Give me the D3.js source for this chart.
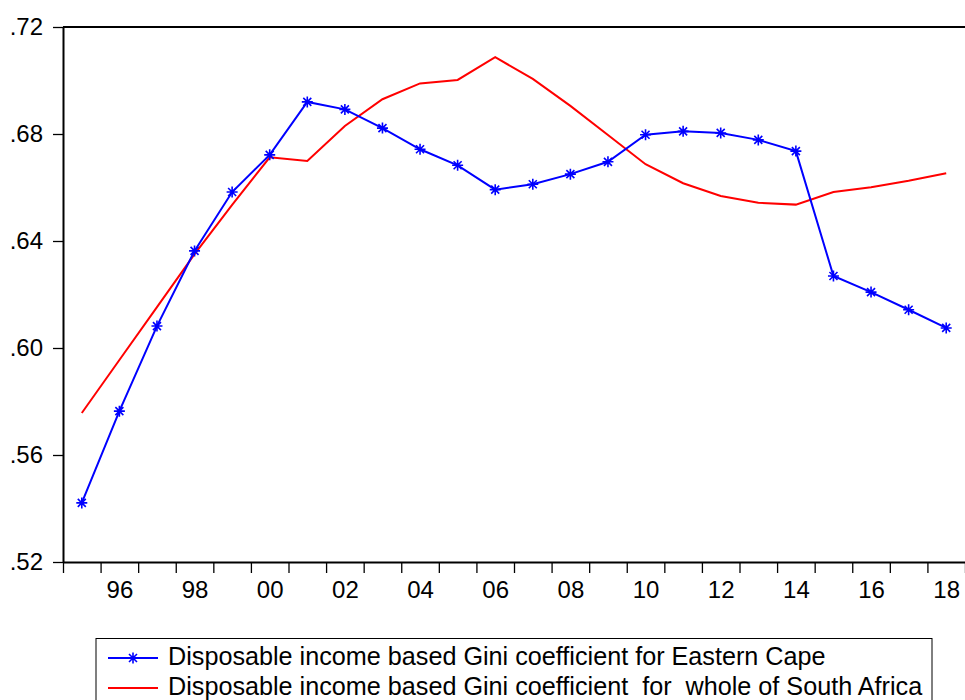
<!DOCTYPE html>
<html><head><meta charset="utf-8">
<script src="https://cdn.jsdelivr.net/npm/d3@7"></script>
<style>
body{margin:0;background:#fff;}
svg{display:block;font-family:"Liberation Sans",Arial,sans-serif;}
</style></head>
<body>
<svg id="chart" width="965" height="700"></svg>
<script>
const years = d3.range(1995, 2019);
const easternCape = [0.5421,0.5764,0.6082,0.6363,0.6583,0.6722,0.6920,0.6892,0.6822,0.6743,0.6683,0.6592,0.6612,0.6650,0.6696,0.6797,0.6810,0.6804,0.6778,0.6736,0.6269,0.6209,0.6143,0.6075];
const southAfrica = [0.5757,0.5955,0.6153,0.6351,0.6535,0.6713,0.6699,0.6830,0.6930,0.6989,0.7002,0.7087,0.7006,0.6905,0.6796,0.6687,0.6616,0.6568,0.6543,0.6536,0.6583,0.6601,0.6625,0.6653];
const yTicks = [0.52,0.56,0.60,0.64,0.68,0.72];
const xLabelYears = d3.range(1996, 2019, 2);
const legendLabels = ["Disposable income based Gini coefficient for Eastern Cape",
                      "Disposable income based Gini coefficient  for  whole of South Africa"];

const svg = d3.select("#chart");
const mLeft = 63, mRight = 965, mTop = 27, mBottom = 562;
const x = d3.scaleLinear().domain([1994.5, 2018.5]).range([mLeft, mRight]);
const y = d3.scaleLinear().domain([0.52, 0.72]).range([mBottom, mTop]);
const FONT = "Liberation Sans, Arial, sans-serif";

// y axis
const yAxis = d3.axisLeft(y).tickValues(yTicks).tickSize(10).tickPadding(10).tickSizeOuter(0)
  .tickFormat(d => d3.format(".2f")(d).replace(/^0/, ""));
const gy = svg.append("g").attr("transform", `translate(${mLeft},0)`).call(yAxis);
gy.select(".domain").attr("stroke", "#000").attr("stroke-width", 2);
gy.selectAll(".tick line").attr("stroke", "#000").attr("stroke-width", 1.3);
gy.selectAll(".tick text").attr("font-size", 24).attr("font-family", FONT).attr("fill", "#000");

// x axis ticks (year boundaries)
const boundaries = d3.range(1994.5, 2018.6, 1);
const xAxis = d3.axisBottom(x).tickValues(boundaries).tickSize(11).tickSizeOuter(0).tickFormat("");
const gx = svg.append("g").attr("transform", `translate(0,${mBottom})`).call(xAxis);
gx.select(".domain").attr("stroke", "#000").attr("stroke-width", 2);
gx.selectAll(".tick line").attr("stroke", "#000").attr("stroke-width", 1.3);

// x labels
const xLab = d3.axisBottom(x).tickValues(xLabelYears).tickSize(0).tickPadding(18.5)
  .tickFormat(d => String(d).slice(2));
const gxl = svg.append("g").attr("transform", `translate(0,${mBottom})`).call(xLab);
gxl.select(".domain").remove();
gxl.selectAll(".tick text").attr("font-size", 24).attr("font-family", FONT).attr("fill", "#000");

// top border
svg.append("line").attr("x1", mLeft).attr("x2", mRight).attr("y1", mTop).attr("y2", mTop)
  .attr("stroke", "#000").attr("stroke-width", 2);

const line = d3.line().x((d, i) => x(years[i])).y(d => y(d));

svg.append("path").datum(southAfrica).attr("d", line)
  .attr("fill", "none").attr("stroke", "#ff0000").attr("stroke-width", 2);
svg.append("path").datum(easternCape).attr("d", line)
  .attr("fill", "none").attr("stroke", "#0000ff").attr("stroke-width", 2);

const star = "M0,-5.5V5.5M-5.5,0H5.5M-4,-4L4,4M-4,4L4,-4";
svg.append("g").selectAll("path").data(easternCape).join("path")
  .attr("transform", (d, i) => `translate(${x(years[i])},${y(d)})`)
  .attr("d", star).attr("stroke", "#0000ff").attr("stroke-width", 1.6).attr("fill", "none");

// legend
const lg = svg.append("g");
lg.append("rect").attr("x", 96).attr("y", 638.5).attr("width", 836).attr("height", 80)
  .attr("fill", "#fff").attr("stroke", "#000").attr("stroke-width", 1);
const rowsY = [658, 688];
const colors = ["#0000ff", "#ff0000"];
rowsY.forEach((ry, i) => {
  lg.append("line").attr("x1", 108).attr("x2", 158).attr("y1", ry).attr("y2", ry)
    .attr("stroke", colors[i]).attr("stroke-width", 2);
  if (i === 0) lg.append("path").attr("transform", `translate(133,${ry})`).attr("d", star)
    .attr("stroke", colors[i]).attr("stroke-width", 1.6).attr("fill", "none");
  lg.append("text").attr("x", 168).attr("y", ry + 6.5)
    .attr("font-size", 25.2).attr("font-family", FONT).attr("fill", "#000").style("white-space", "pre")
    .text(legendLabels[i]);
});
</script>
</body></html>
